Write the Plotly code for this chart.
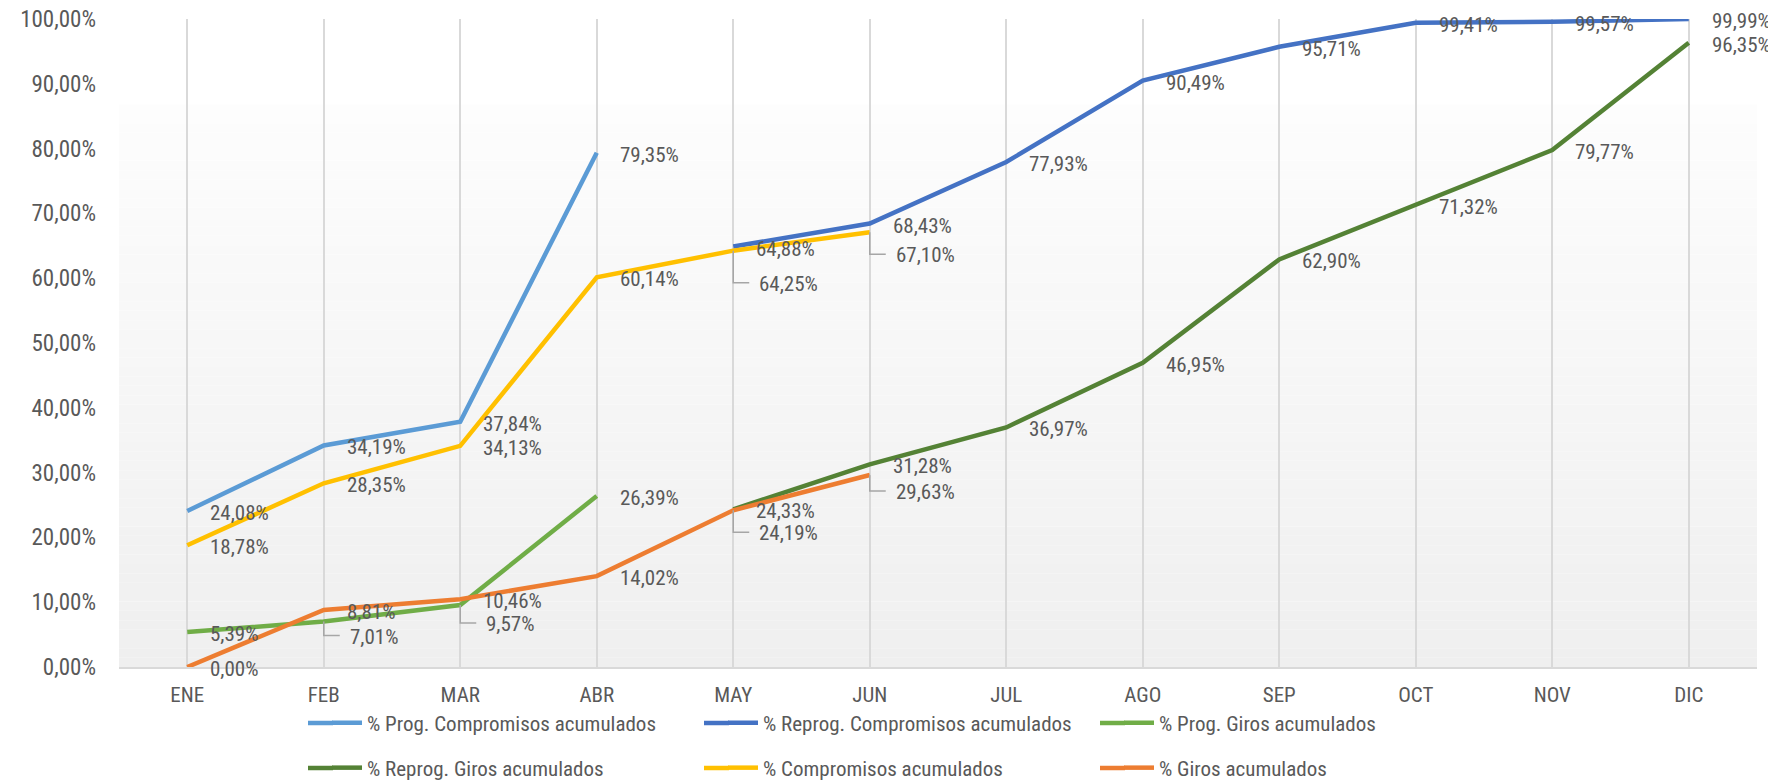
import plotly.graph_objects as go

months = ["ENE", "FEB", "MAR", "ABR", "MAY", "JUN", "JUL", "AGO", "SEP", "OCT", "NOV", "DIC"]

prog_compromisos = [24.08, 34.19, 37.84, 79.35, None, None, None, None, None, None, None, None]
reprog_compromisos = [None, None, None, None, 64.88, 68.43, 77.93, 90.49, 95.71, 99.41, 99.57, 99.99]
prog_giros = [5.39, 7.01, 9.57, 26.39, None, None, None, None, None, None, None, None]
reprog_giros = [None, None, None, None, 24.33, 31.28, 36.97, 46.95, 62.90, 71.32, 79.77, 96.35]
compromisos = [18.78, 28.35, 34.13, 60.14, 64.25, 67.10, None, None, None, None, None, None]
giros = [0.00, 8.81, 10.46, 14.02, 24.19, 29.63, None, None, None, None, None, None]

y_ticks = list(range(0, 101, 10))

series = [
    ("% Prog. Compromisos acumulados", prog_compromisos, "#5B9BD5", "legend"),
    ("% Reprog. Compromisos acumulados", reprog_compromisos, "#4472C4", "legend"),
    ("% Prog. Giros acumulados", prog_giros, "#70AD47", "legend"),
    ("% Reprog. Giros acumulados", reprog_giros, "#548235", "legend2"),
    ("% Compromisos acumulados", compromisos, "#FFC000", "legend2"),
    ("% Giros acumulados", giros, "#ED7D31", "legend2"),
]

# label placement tweaks (series index, month) -> pixels below the point, with leader line
leader_offsets = {
    (4, "MAY"): 32, (4, "JUN"): 22,
    (2, "FEB"): 14, (2, "MAR"): 18,
    (5, "MAY"): 22, (5, "JUN"): 16,
}


def pct(v):
    return f"{v:.2f}".replace(".", ",") + "%"


FONT = "Roboto Condensed, Roboto, sans-serif"
TXT = "#595959"

# page body has an 8px default margin; figure size compensates
W, H = 1768, 772
OFF = 8
PL, PR, PT, PB = 119, 1757, 19, 667   # plot area in page pixels
ENTRY = 351
LEG_X0 = 327
ROWS_Y = [723, 768]

fig = go.Figure()
for name, vals, color, lg in series:
    fig.add_trace(go.Scatter(
        x=months, y=vals, name=name, mode="lines",
        line=dict(color=color, width=4.5),
        connectgaps=False, cliponaxis=False, legend=lg,
    ))

annotations = []
shapes = []

# gradient background
N = 60
top = 0.868
for i in range(N):
    y0 = top * i / N
    y1 = top * (i + 1) / N
    f = (i + 0.5) / N
    c = int(round(239 + (253 - 239) * f))
    shapes.append(dict(type="rect", xref="x domain", yref="y domain", x0=0, x1=1,
                       y0=y0, y1=y1, fillcolor=f"rgb({c},{c},{c})", line=dict(width=0),
                       layer="below"))

for si, (name, vals, color, lg) in enumerate(series):
    for m, v in zip(months, vals):
        if v is None:
            continue
        txt = pct(v)
        dy = leader_offsets.get((si, m))
        if dy is None:
            annotations.append(dict(x=m, y=v, xref="x", yref="y", text=txt, showarrow=False,
                                    xanchor="left", yanchor="middle", xshift=21, yshift=-2,
                                    font=dict(family=FONT, size=21, color=TXT)))
        else:
            annotations.append(dict(x=m, y=v, xref="x", yref="y", text=txt, showarrow=False,
                                    xanchor="left", yanchor="middle", xshift=24, yshift=-dy - 1,
                                    font=dict(family=FONT, size=21, color=TXT)))
            shapes.append(dict(type="path", xref="x", yref="y", xsizemode="pixel", ysizemode="pixel",
                               xanchor=m, yanchor=v, path=f"M0,0 L0,{-dy} L16,{-dy}",
                               line=dict(color="#A6A6A6", width=1.5), layer="above"))

# lengthen the legend line samples (legend keys are 30px in plotly)
for k, (name, vals, color, lg) in enumerate(series):
    row, col = divmod(k, 3)
    item_x = LEG_X0 + col * (ENTRY + 45)
    seg_x1 = item_x + 6
    seg_x0 = item_x - 19
    ypix = ROWS_Y[row]
    shapes.append(dict(type="line", xref="paper", yref="paper",
                       x0=(seg_x0 - PL) / (PR - PL), x1=(seg_x1 - PL) / (PR - PL),
                       y0=(PB - ypix) / (PB - PT), y1=(PB - ypix) / (PB - PT),
                       line=dict(color=color, width=4.5), layer="above"))

legend_common = dict(orientation="h", xref="container", yref="container", xanchor="left",
                     yanchor="middle", entrywidth=ENTRY, entrywidthmode="pixels",
                     font=dict(family=FONT, size=21, color=TXT), bgcolor="rgba(0,0,0,0)",
                     borderwidth=0)

fig.update_layout(
    width=W, height=H,
    margin=dict(l=PL - OFF, r=W + OFF - PR, t=PT - OFF, b=H + OFF - PB, autoexpand=False),
    paper_bgcolor="white", plot_bgcolor="white",
    font=dict(family=FONT, size=21, color=TXT),
    shapes=shapes, annotations=annotations,
    legend=dict(x=(LEG_X0 - OFF) / W, y=1 - (ROWS_Y[0] - OFF) / H, **legend_common),
    legend2=dict(x=(LEG_X0 - OFF) / W, y=1 - (ROWS_Y[1] - OFF) / H, **legend_common),
    xaxis=dict(type="category", showgrid=True, gridcolor="#D9D9D9", gridwidth=1.5,
               showline=True, linecolor="#D9D9D9", linewidth=1.5, ticks="",
               tickfont=dict(family=FONT, size=21, color=TXT), ticklabelstandoff=8,
               range=[-0.5, 11.5], automargin=False),
    yaxis=dict(range=[0, 100], tickvals=y_ticks, ticktext=[pct(t) for t in y_ticks],
               showgrid=False, zeroline=False, showline=False, ticks="",
               tickfont=dict(family=FONT, size=23, color=TXT), ticklabelstandoff=22,
               ticklabeloverflow="allow", automargin=False),
)

fig.write_html("out.html")
